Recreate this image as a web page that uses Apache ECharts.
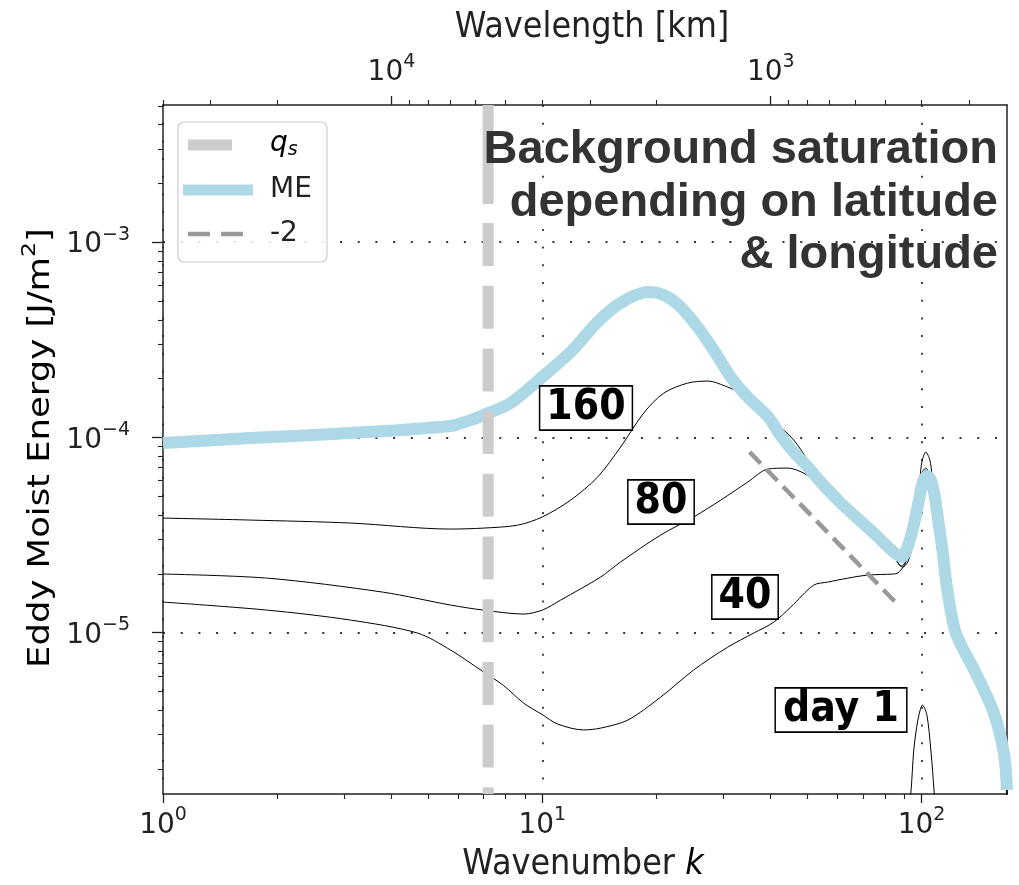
<!DOCTYPE html>
<html><head><meta charset="utf-8">
<script src="https://cdn.jsdelivr.net/npm/echarts@6/dist/echarts.min.js"></script>
<style>html,body{margin:0;padding:0;background:#fff}#c{width:1019px;height:885px}</style>
</head><body><div id="c"></div>
<script>
// ---- axis ranges ----
const kMin = 1, kMax = 168;
const eMin = 1.489e-6, eMax = 5.045e-3;
const earthCircumKm = 40030;

// ---- tick values ----
const xMajor = [1, 10, 100];
const xMinor = [2,3,4,5,6,7,8,9,20,30,40,50,60,70,80,90];
const yMajor = [1e-5, 1e-4, 1e-3];
const yMinor = [2e-6,3e-6,4e-6,5e-6,6e-6,7e-6,8e-6,9e-6,2e-5,3e-5,4e-5,5e-5,6e-5,7e-5,8e-5,9e-5,2e-4,3e-4,4e-4,5e-4,6e-4,7e-4,8e-4,9e-4,2e-3,3e-3,4e-3,5e-3];
const topMajorKm = [1e4, 1e3];
const topMinorKm = [40000,30000,20000,9000,8000,7000,6000,5000,4000,3000,2000,900,800,700,600,500,400,300];

// ---- series values (wavenumber k, energy E) ----
const meK = [1.00,1.70,3.12,5.73,6.47,7.00,8.25,10.0,11.88,13.99,16.09,18.96,20.90,23.17,25.69,28.31,31.40,34.81,39.31,42.53,46.03,50.12,54.24,61.25,74.84,84.53,88.7,92.0,95.4,98.4,100.8,103.3,105.8,108.4,111.1,113.8,116.6,123.2,139.1,155.2,164.9,168];
const meE = [9.35e-5,9.92e-5,1.052e-4,1.143e-4,1.226e-4,1.30e-4,1.50e-4,2.04e-4,2.735e-4,3.90e-4,4.88e-4,5.55e-4,5.36e-4,4.65e-4,3.67e-4,2.80e-4,2.04e-4,1.608e-4,1.28e-4,1.02e-4,8.41e-5,7.05e-5,5.90e-5,4.61e-5,3.23e-5,2.58e-5,2.44e-5,2.775e-5,3.55e-5,4.77e-5,5.90e-5,6.34e-5,6.04e-5,4.94e-5,3.55e-5,2.555e-5,1.71e-5,9.94e-6,6.18e-6,3.86e-6,2.40e-6,1.56e-6];

const d160K = [1.00,1.70,3.12,5.73,7.00,8.61,10.0,11.88,13.99,16.09,18.51,20.90,24.17,27.31,30.83,33.36,37.67,40.76,46.03,50.12,56.60,65.1,74.84,84.53,89.2,92.0,94.8,97.2,99.0,100.2,102.6,105.2,106.5,108.4,111.1,113.8,116.6,123.2,139.1,155.2,164.9,168];
const d160E = [3.86e-5,3.77e-5,3.64e-5,3.39e-5,3.43e-5,3.55e-5,3.91e-5,4.77e-5,6.26e-5,8.92e-5,1.332e-4,1.685e-4,1.897e-4,1.943e-4,1.81e-4,1.685e-4,1.464e-4,1.226e-4,9.69e-5,7.65e-5,5.37e-5,4.09e-5,3.16e-5,2.44e-5,2.165e-5,2.30e-5,2.81e-5,3.77e-5,6.04e-5,7.47e-5,8.41e-5,7.65e-5,6.41e-5,4.24e-5,3.3e-5,2.35e-5,1.6e-5,9.2e-6,5.7e-6,3.55e-6,2.2e-6,1.45e-6];

const d80K = [1.00,1.885,3.81,5.73,7.00,8.93,10.0,11.18,14.25,16.09,20.52,25.07,29.54,34.81,39.31,44.38,48.90,52.6,61.25,74.84,84.53,88.2,92.0,95.4,99.0,102.6,105.2,108.4,111.1,113.8,116.6,123.2,139.1,155.2,164.9,168];
const d80E = [1.995e-5,1.90e-5,1.61e-5,1.383e-5,1.303e-5,1.244e-5,1.303e-5,1.467e-5,1.925e-5,2.30e-5,3.16e-5,3.91e-5,4.77e-5,5.90e-5,6.88e-5,6.96e-5,6.56e-5,5.90e-5,4.45e-5,3.16e-5,2.465e-5,2.19e-5,2.41e-5,3.5e-5,5.7e-5,6.8e-5,6.19e-5,4.6e-5,3.3e-5,2.35e-5,1.6e-5,9.2e-6,5.7e-6,3.55e-6,2.2e-6,1.45e-6];

const d40K = [1.00,1.885,3.12,4.69,5.73,7.00,7.91,8.93,10.0,10.97,12.85,14.25,16.80,20.52,25.07,30.83,36.10,40.76,45.2,51.97,56.60,63.91,72.17,84.53,86.6,88.2,90.9,93.7,96.6,99.6,102.6,105.8,108.4,111.1,113.8,116.6,123.2,139.1,155.2,164.9,168];
const d40E = [1.433e-5,1.303e-5,1.159e-5,9.94e-6,8.14e-6,6.28e-6,5.35e-6,4.35e-6,3.80e-6,3.40e-6,3.17e-6,3.24e-6,3.56e-6,4.67e-6,6.43e-6,8.42e-6,9.94e-6,1.13e-5,1.35e-5,1.75e-5,1.814e-5,1.90e-5,1.97e-5,1.995e-5,2.02e-5,2.09e-5,2.30e-5,3.16e-5,4.77e-5,6.41e-5,6.96e-5,6.19e-5,4.6e-5,3.3e-5,2.35e-5,1.6e-5,9.2e-6,5.7e-6,3.55e-6,2.2e-6,1.45e-6];

const d1K = [88.2,93.7,95.4,97.8,100.6,103.3,105.8,108.0,112.4];
const d1E = [5e-7,1.506e-6,2.50e-6,3.56e-6,4.25e-6,3.78e-6,2.50e-6,1.506e-6,5e-7];

const qsK = 7.2;
const slopeK = [35.2, 85.0];
const slopeE = [8.41e-5, 1.443e-5];

// ---- helpers ----
const zip = (a, b) => a.map((v, i) => [v, b[i]]);
const FF = "'DejaVu Sans', sans-serif";
const AX = '#222';
const rich = {
  b: {fontSize: 28, fontFamily: FF, color: AX, lineHeight: 34, verticalAlign: 'bottom'},
  s: {fontSize: 19, fontFamily: FF, color: AX, lineHeight: 20, verticalAlign: 'top'}
};
const gridLine = {show: true, lineStyle: {color: '#333', width: 1.8, type: [2, 15.7]}};
const qsDash = [99, 19];
for (let i = 0; i < 11; i++) qsDash.push(43, 19.7);

function logAxis(extra) {
  return Object.assign({type: 'log', logBase: 10, gridIndex: 0,
    splitLine: {show: false}, minorTick: {show: false}, minorSplitLine: {show: false}}, extra);
}
const noLine = {show: false};
const xCommon = {min: kMin, max: kMax};
const yCommon = {min: eMin, max: eMax};

const chart = echarts.init(document.getElementById('c'), null, {renderer: 'canvas'});
chart.setOption({
  animation: false,
  backgroundColor: '#fff',
  grid: {left: 163, top: 105, right: 12, bottom: 91, containLabel: false},
  xAxis: [
    logAxis(Object.assign({position: 'bottom',
      axisLine: {show: true, lineStyle: {color: AX, width: 1.5}},
      axisTick: {show: true, customValues: xMajor, length: 9, lineStyle: {color: AX, width: 1.3}},
      axisLabel: {show: true, customValues: xMajor, margin: 12, rich,
        formatter: v => '{b|10}{s|' + Math.round(Math.log10(v)) + '}'},
      splitLine: gridLine}, xCommon)),
    logAxis(Object.assign({position: 'bottom', axisLine: noLine, axisLabel: {show: false},
      axisTick: {show: true, customValues: xMinor, length: 5, lineStyle: {color: AX, width: 1.1}}}, xCommon)),
    logAxis(Object.assign({position: 'top',
      axisLine: {show: true, lineStyle: {color: AX, width: 1.5}},
      axisTick: {show: true, customValues: topMajorKm.map(w => earthCircumKm / w), length: 9, lineStyle: {color: AX, width: 1.3}},
      axisLabel: {show: true, customValues: topMajorKm.map(w => earthCircumKm / w), margin: 18, rich,
        formatter: v => '{b|10}{s|' + Math.round(Math.log10(earthCircumKm / v)) + '}'}}, xCommon)),
    logAxis(Object.assign({position: 'top', axisLine: noLine, axisLabel: {show: false},
      axisTick: {show: true, customValues: topMinorKm.map(w => earthCircumKm / w), length: 5, lineStyle: {color: AX, width: 1.1}}}, xCommon))
  ],
  yAxis: [
    logAxis(Object.assign({position: 'left',
      axisLine: {show: true, lineStyle: {color: AX, width: 1.5}},
      axisTick: {show: true, customValues: yMajor, length: 11, lineStyle: {color: AX, width: 1.3}},
      axisLabel: {show: true, customValues: yMajor, margin: 33, rich,
        formatter: v => '{b|10}{s|\u2212' + Math.abs(Math.round(Math.log10(v))) + '}'},
      splitLine: gridLine}, yCommon)),
    logAxis(Object.assign({position: 'left', axisLine: noLine, axisLabel: {show: false},
      axisTick: {show: true, customValues: yMinor, length: 5, lineStyle: {color: AX, width: 1.1}}}, yCommon)),
    logAxis(Object.assign({position: 'right',
      axisLine: {show: true, lineStyle: {color: AX, width: 1.5}},
      axisTick: {show: false}, axisLabel: {show: false}}, yCommon))
  ],
  series: [
    {type: 'line', name: 'day 1', data: zip(d1K, d1E), showSymbol: false, smooth: 0.3,
      lineStyle: {color: '#000', width: 1}, z: 2},
    {type: 'line', name: '40', data: zip(d40K, d40E), showSymbol: false, smooth: 0.3,
      lineStyle: {color: '#000', width: 1}, z: 2},
    {type: 'line', name: '80', data: zip(d80K, d80E), showSymbol: false, smooth: 0.3,
      lineStyle: {color: '#000', width: 1}, z: 2},
    {type: 'line', name: '160', data: zip(d160K, d160E), showSymbol: false, smooth: 0.3,
      lineStyle: {color: '#000', width: 1}, z: 2},
    {type: 'line', name: 'ME', data: zip(meK, meE), showSymbol: false, smooth: 0.3,
      lineStyle: {color: '#add8e6', width: 12}, z: 3},
    {type: 'line', name: 'q_s', data: [[qsK, eMax], [qsK, eMin]], showSymbol: false,
      lineStyle: {color: '#cccccc', width: 11, type: qsDash}, z: 4},
    {type: 'line', name: '-2', data: zip(slopeK, slopeE), showSymbol: false,
      lineStyle: {color: '#999999', width: 4.5, type: [16, 8]}, z: 5}
  ],
  graphic: [
    // axis names
    {type: 'text', x: 592, y: 28, scaleY: 1.12, z: 50,
      style: {text: 'Wavelength [km]', fontSize: 32, fontFamily: FF, fill: AX, align: 'center', verticalAlign: 'middle'}},
    {type: 'text', x: 583, y: 865, scaleY: 1.12, z: 50,
      style: {text: '{n|Wavenumber }{i|k}', align: 'center', verticalAlign: 'middle',
        rich: {n: {fontSize: 32, fontFamily: FF, fill: AX, color: AX}, i: {fontSize: 32, fontFamily: FF, fontStyle: 'italic', color: AX}}}},
    {type: 'text', x: 38, y: 448, rotation: Math.PI / 2, scaleX: 1.18, z: 50,
      style: {text: '{n|Eddy Moist Energy [J/m}{s|2}{n|]}', align: 'center', verticalAlign: 'middle',
        rich: {n: {fontSize: 30, fontFamily: FF, color: AX, lineHeight: 36, verticalAlign: 'bottom'},
               s: {fontSize: 20, fontFamily: FF, color: AX, lineHeight: 20, verticalAlign: 'top'}}}},
    // title annotation
    {type: 'text', x: 998, y: 124, z: 50,
      style: {text: 'Background saturation\ndepending on latitude\n& longitude', fontSize: 47, fontWeight: 'bold',
        fontFamily: "'Liberation Sans', Arial, sans-serif", fill: '#333', align: 'right', verticalAlign: 'top', lineHeight: 52.5}},
    // day labels
    {type: 'text', x: 586, y: 408, scaleY: 1.12, z: 60,
      style: {text: '160', fontSize: 38, fontWeight: 'bold', fontFamily: FF, fill: '#000', align: 'center', verticalAlign: 'middle',
        backgroundColor: '#fff', borderColor: '#000', borderWidth: 1.5, padding: [1, 6, 1, 6], lineHeight: 36}},
    {type: 'text', x: 661, y: 502, scaleY: 1.12, z: 60,
      style: {text: '80', fontSize: 38, fontWeight: 'bold', fontFamily: FF, fill: '#000', align: 'center', verticalAlign: 'middle',
        backgroundColor: '#fff', borderColor: '#000', borderWidth: 1.5, padding: [1, 6, 1, 6], lineHeight: 36}},
    {type: 'text', x: 745, y: 597, scaleY: 1.12, z: 60,
      style: {text: '40', fontSize: 38, fontWeight: 'bold', fontFamily: FF, fill: '#000', align: 'center', verticalAlign: 'middle',
        backgroundColor: '#fff', borderColor: '#000', borderWidth: 1.5, padding: [1, 6, 1, 6], lineHeight: 36}},
    {type: 'text', x: 841, y: 710, scaleY: 1.12, z: 60,
      style: {text: 'day 1', fontSize: 38, fontWeight: 'bold', fontFamily: FF, fill: '#000', align: 'center', verticalAlign: 'middle',
        backgroundColor: '#fff', borderColor: '#000', borderWidth: 1.5, padding: [1, 7, 1, 7], lineHeight: 36}},
    // legend
    {type: 'rect', shape: {x: 178, y: 122, width: 149, height: 140, r: 6}, z: 70,
      style: {fill: 'rgba(255,255,255,0.85)', stroke: '#cccccc', lineWidth: 1.2}},
    {type: 'line', shape: {x1: 188, y1: 145, x2: 232, y2: 145}, z: 71, style: {stroke: '#cccccc', lineWidth: 11}},
    {type: 'line', shape: {x1: 183, y1: 190, x2: 253, y2: 190}, z: 71, style: {stroke: '#add8e6', lineWidth: 11}},
    {type: 'line', shape: {x1: 188, y1: 234, x2: 243, y2: 234}, z: 71, style: {stroke: '#999999', lineWidth: 4.5, lineDash: [22, 11]}},
    {type: 'text', x: 270, y: 145, z: 72,
      style: {text: '{i|q}{u|s}', align: 'left', verticalAlign: 'middle',
        rich: {i: {fontSize: 28, fontFamily: FF, fontStyle: 'italic', color: AX, lineHeight: 30, verticalAlign: 'top'},
               u: {fontSize: 19, fontFamily: FF, fontStyle: 'italic', color: AX, lineHeight: 20, verticalAlign: 'bottom', padding: [10, 0, 0, 0]}}}},
    {type: 'text', x: 270, y: 190, z: 72, style: {text: 'ME', fontSize: 28, fontFamily: FF, fill: AX, align: 'left', verticalAlign: 'middle'}},
    {type: 'text', x: 270, y: 234, z: 72, style: {text: '-2', fontSize: 28, fontFamily: FF, fill: AX, align: 'left', verticalAlign: 'middle'}}
  ]
});
</script>
</body></html>
